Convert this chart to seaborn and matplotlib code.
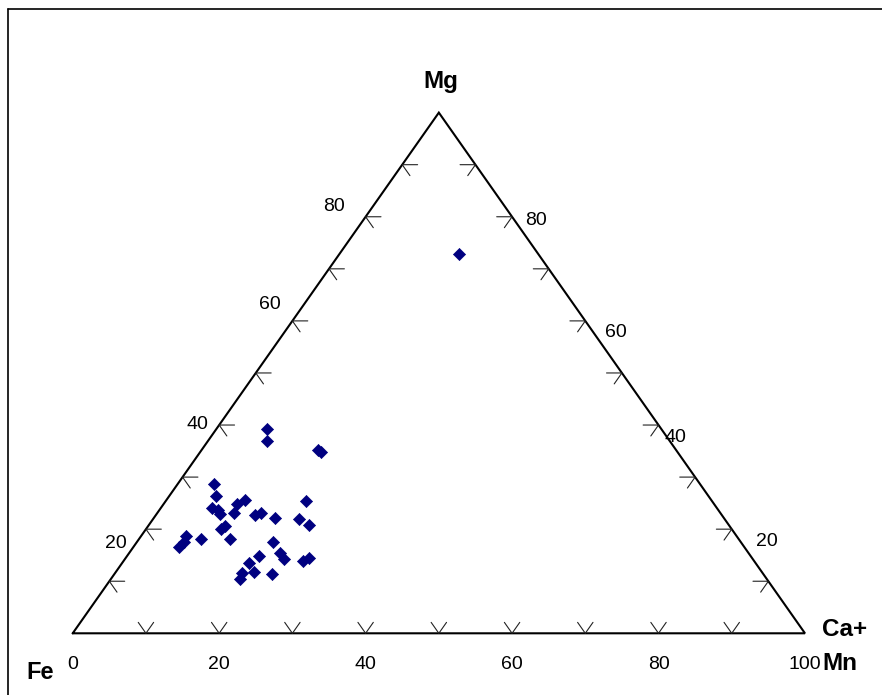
import pandas as pd
import matplotlib.pyplot as plt
import seaborn as sns

sns.set_theme(style="white")
plt.rcParams['font.family'] = ['Liberation Sans', 'DejaVu Sans']
plt.rcParams['text.color'] = 'black'

# compositions in percent (Mg, Ca+Mn); Fe is the remainder
mg = [72.8, 39.2, 37.0, 35.3, 34.8, 28.6, 26.3, 24.1, 23.7, 23.0,
      24.8, 25.6, 23.2, 22.8, 23.2, 22.1, 25.4, 22.0, 20.8, 20.7,
      20.1, 18.2, 18.05, 18.65, 17.6, 16.6, 17.6, 15.4, 14.3, 14.8,
      13.5, 11.8, 11.6, 10.5, 11.4, 13.8, 14.5]
ca_mn = [16.3, 6.9, 8.0, 15.8, 16.5, 5.0, 6.4, 7.0, 8.0, 8.6,
         10.0, 10.7, 10.4, 13.5, 14.15, 16.6, 19.2, 19.9, 21.9, 10.45,
         10.25, 12.4, 8.55, 6.2, 6.4, 6.15, 18.6, 20.6, 21.75, 18.0,
         17.3, 18.9, 17.35, 17.55, 21.5, 24.5, 25.05]

ticks = [10, 20, 30, 40, 50, 60, 70, 80, 90]
bottom_labels = [0, 20, 40, 60, 80, 100]
side_labels = [20, 40, 60, 80]

df = pd.DataFrame({"Mg": mg, "CaMn": ca_mn})
df["Fe"] = 100 - df["Mg"] - df["CaMn"]
df["x"] = df["CaMn"] + df["Mg"] / 2
df["y"] = df["Mg"]

fig = plt.figure(figsize=(8.82, 6.95), dpi=100)
ax = fig.add_axes([0, 0, 1, 1])
ax.set_xlim(-9.93, 110.52)
ax.set_ylim(-11.85, 121.63)
ax.axis("off")

# outer frame (only top and left edges visible)
fy = 1 - 9 / 695
fx = 7.5 / 882
fig.add_artist(plt.Line2D([fx, fx], [0, fy], color="black", lw=1.2))
fig.add_artist(plt.Line2D([fx, 1], [fy, fy], color="black", lw=1.2))

# triangle
ax.plot([0, 100, 50, 0], [0, 0, 100, 0], color="black", lw=1.5,
        solid_joinstyle="miter", zorder=2)

d = 2.1
for v in ticks:
    # bottom (Ca+Mn axis)
    ax.plot([v - d / 2, v, v + d / 2], [d, 0, d], color="#222222", lw=0.8)
    # left
    ax.plot([v / 2 + d, v / 2, v / 2 + d / 2], [v, v, v - d],
            color="#222222", lw=0.8)
    # right
    xr = 100 - v / 2
    ax.plot([xr - d, xr, xr - d / 2], [v, v, v - d],
            color="#222222", lw=0.8)

for v in bottom_labels:
    ax.annotate(str(v), (v, 0), xytext=(0, -31), textcoords="offset pixels",
                ha="center", va="center", fontsize=14, color="black")

left_off = {20: (-30, -14), 40: (-22, 1), 60: (-23, 16), 80: (-32, 10)}
right_off = {20: (35, -12), 40: (17, -12), 60: (31, -12), 80: (24, -4)}
for v in side_labels:
    ax.annotate(str(v), (v / 2, v), xytext=left_off[v], textcoords="offset pixels",
                ha="center", va="center", fontsize=14, color="black")
    ax.annotate(str(v), (100 - v / 2, v), xytext=right_off[v],
                textcoords="offset pixels", ha="center", va="center",
                fontsize=14, color="black")

ax.annotate("Mg", (50, 100), xytext=(2, 31), textcoords="offset pixels",
            ha="center", va="center", fontsize=17.5, fontweight="bold",
            color="black")
ax.annotate("Fe", (0, 0), xytext=(-33, -39), textcoords="offset pixels",
            ha="center", va="center", fontsize=17, fontweight="bold",
            color="black")
ax.annotate("Ca+", (100, 0), xytext=(17, 4), textcoords="offset pixels",
            ha="left", va="center", fontsize=17.5, fontweight="bold",
            color="black")
ax.annotate("Mn", (100, 0), xytext=(17, -30), textcoords="offset pixels",
            ha="left", va="center", fontsize=17.5, fontweight="bold",
            color="black")

sns.scatterplot(data=df, x="x", y="y", ax=ax, marker="D", s=38,
                color="#000080", edgecolor="#000080", linewidth=0.5,
                zorder=3, legend=False)

plt.savefig("out.png", dpi=100)
